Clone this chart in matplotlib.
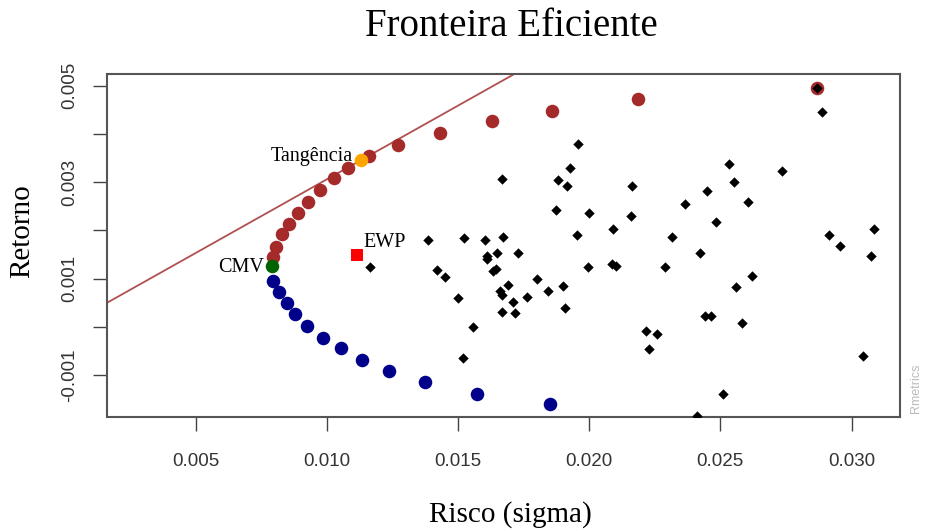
import matplotlib.pyplot as plt
import numpy as np

# fronteira eficiente (parte superior, marrom) - risco, retorno
front_sup_x = [0.00794, 0.00806, 0.00829, 0.00856, 0.00892, 0.00930, 0.00975, 0.01028,
               0.01082, 0.01160, 0.01271, 0.01433, 0.01630, 0.01858, 0.02185, 0.02867]
front_sup_y = [0.001454, 0.001661, 0.001918, 0.002132, 0.002366, 0.002588, 0.002837, 0.003080,
               0.003287, 0.003548, 0.003764, 0.004013, 0.004264, 0.004482, 0.004724, 0.004946]

# parte inferior (azul)
front_inf_x = [0.00797, 0.00818, 0.00848, 0.00879, 0.00926, 0.00987, 0.01056, 0.01136,
               0.01237, 0.01375, 0.01573, 0.01851]
front_inf_y = [0.000956, 0.000728, 0.000487, 0.000265, 0.000023, -0.000226, -0.000446, -0.000689,
               -0.000910, -0.001155, -0.001400, -0.001607]

# carteiras especiais
cmv = (0.00793, 0.001261)
tang = (0.01130, 0.003453)
ewp = (0.01114, 0.001483)

# linha tangente (taxa livre de risco e inclinacao)
rf = 0.0
slope = 0.3057

# ativos individuais
ativos_x = [0.02867, 0.02889, 0.01957, 0.01927, 0.01880, 0.01916, 0.01667, 0.02165, 0.02535, 0.02552,
            0.02734, 0.02451, 0.02364, 0.02604, 0.02484, 0.01875, 0.02001, 0.02160, 0.01955, 0.02092,
            0.02314, 0.02423, 0.02916, 0.02956, 0.03086, 0.03074, 0.01387, 0.01524, 0.01604, 0.01673,
            0.01610, 0.01610, 0.01648, 0.01728, 0.01165, 0.01422, 0.01451, 0.01501, 0.01559, 0.01518,
            0.01632, 0.01645, 0.01689, 0.01659, 0.01667, 0.01711, 0.01667, 0.01718, 0.01762, 0.01803,
            0.01842, 0.01899, 0.01909, 0.01997, 0.02086, 0.02101, 0.02291, 0.02620, 0.02558, 0.02442,
            0.02463, 0.02581, 0.02217, 0.02258, 0.02229, 0.03042, 0.02512, 0.02410]
ativos_y = [0.004946, 0.004461, 0.003785, 0.003287, 0.003044, 0.002910, 0.003071, 0.002916, 0.003382, 0.003009,
            0.003231, 0.002823, 0.002547, 0.002578, 0.002173, 0.002422, 0.002360, 0.002298, 0.001894, 0.002022,
            0.001869, 0.001524, 0.001900, 0.001682, 0.002022, 0.001468, 0.001800, 0.001837, 0.001800, 0.001869,
            0.001458, 0.001396, 0.001526, 0.001526, 0.001244, 0.001188, 0.001027, 0.000591, 0.000002, -0.000641,
            0.001151, 0.001193, 0.000877, 0.000749, 0.000660, 0.000508, 0.000313, 0.000280, 0.000624, 0.000981,
            0.000749, 0.000846, 0.000384, 0.001234, 0.001302, 0.001271, 0.001246, 0.001060, 0.000815, 0.000224,
            0.000224, 0.000073, -0.000083, -0.000149, -0.000460, -0.000612, -0.001387, -0.001843]

xticks = [0.005, 0.010, 0.015, 0.020, 0.025, 0.030]
xtick_labels = ['0.005', '0.010', '0.015', '0.020', '0.025', '0.030']
yticks = [-0.001, 0.000, 0.001, 0.002, 0.003, 0.004, 0.005]
ytick_labels = ['-0.001', '', '0.001', '', '0.003', '', '0.005']

serif = 'Liberation Serif'
sans = 'Liberation Sans'

fig = plt.figure(figsize=(9.25, 5.31), dpi=100)
ax = fig.add_axes([107/925, 1 - 417/531, (900-107)/925, (417-74)/531])

ax.axline((0, rf), slope=slope, color='#b05050', lw=1.3, zorder=1)
ax.scatter(front_sup_x, front_sup_y, s=95, color='#A52A2A', zorder=2, linewidths=0)
ax.scatter(front_inf_x, front_inf_y, s=95, color='#00008B', zorder=2, linewidths=0)
ax.scatter([cmv[0]], [cmv[1]], s=95, color='#006400', zorder=3, linewidths=0)
ax.scatter([tang[0]], [tang[1]], s=95, color='orange', zorder=3, linewidths=0)
ax.scatter(ativos_x, ativos_y, s=28, marker='D', color='black', zorder=4, linewidths=0)
ax.scatter([ewp[0]], [ewp[1]], s=70, marker='s', color='red', zorder=4, linewidths=0)

ax.annotate('Tangência', tang, xytext=(-6, 3), textcoords='offset points',
            ha='right', va='center', fontsize=14.5, family=serif)
ax.annotate('CMV', cmv, xytext=(-6, -1), textcoords='offset points',
            ha='right', va='center', fontsize=14.5, family=serif)
ax.annotate('EWP', ewp, xytext=(5, 9), textcoords='offset points',
            ha='left', va='center', fontsize=14.5, family=serif)

ax.set_xlim(0.001627, 0.031848)
ax.set_ylim(-0.001871, 0.005243)

ax.set_xticks(xticks)
ax.set_xticklabels(xtick_labels, fontsize=13.5, family=sans, color='#333333')
ax.set_yticks(yticks)
ax.set_yticklabels(ytick_labels, fontsize=13.5, family=sans, color='#333333',
                   rotation=90, va='center')
ax.tick_params(axis='x', length=10, width=1, color='#444444', pad=16)
ax.tick_params(axis='y', length=10, width=1, color='#444444', pad=11)
for sp in ax.spines.values():
    sp.set_color('#555555')
    sp.set_linewidth(1.5)

fig.text(511.5/925, 1 - 27/531, 'Fronteira Eficiente', ha='center', va='center',
         fontsize=28, family=serif)
fig.text(510.5/925, 1 - 515/531, 'Risco (sigma)', ha='center', va='center',
         fontsize=21, family=serif)
fig.text(22/925, 1 - 231/531, 'Retorno', ha='center', va='center', rotation=90,
         fontsize=21, family=serif)
fig.text(916/925, 1 - 413/531, 'Rmetrics', ha='center', va='bottom', rotation=90,
         fontsize=9, family=sans, color='#bbbbbb')

fig.savefig('out.png', dpi=100)
